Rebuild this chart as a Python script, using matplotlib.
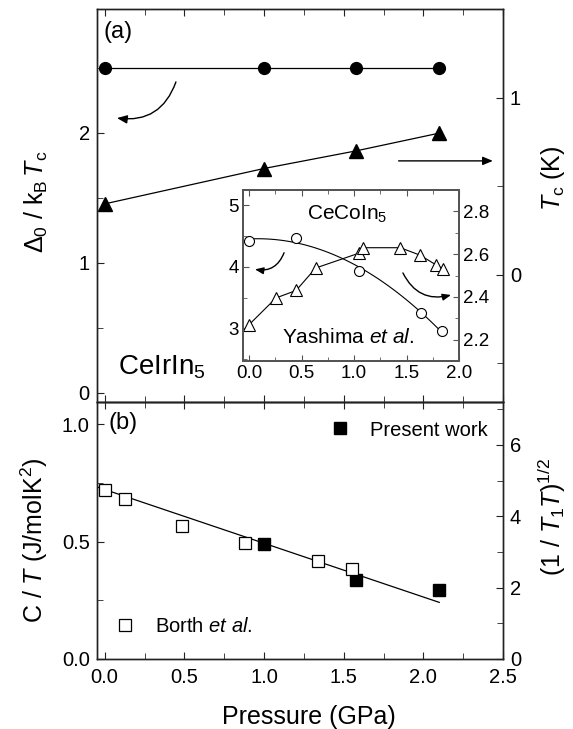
import numpy as np
import matplotlib
matplotlib.use('Agg')
import matplotlib.pyplot as plt
from matplotlib.ticker import MultipleLocator

plt.rcParams['font.family'] = ['Liberation Sans', 'DejaVu Sans']
plt.rcParams['mathtext.fontset'] = 'custom'
plt.rcParams['mathtext.rm'] = 'Liberation Sans'
plt.rcParams['mathtext.it'] = 'Liberation Sans:italic'
plt.rcParams['mathtext.bf'] = 'Liberation Sans:bold'
plt.rcParams['mathtext.sf'] = 'Liberation Sans'

# (a) CeIrIn5
p_a = [0.0, 1.0, 1.58, 2.10]
gap_a = [2.5, 2.5, 2.5, 2.5]
tc_a = [0.40, 0.60, 0.70, 0.80]

# inset CeCoIn5 (Yashima et al.)
p_gap_in = [0.0, 0.445, 1.05, 1.64, 1.84]
gap_in = [4.42, 4.47, 3.94, 3.25, 2.95]
p_tc_in = [0.0, 0.257, 0.448, 0.635, 1.05, 1.09, 1.44, 1.63, 1.78, 1.85]
tc_in = [2.27, 2.395, 2.43, 2.535, 2.605, 2.63, 2.63, 2.595, 2.55, 2.53]

# (b)
p_borth = [0.0, 0.13, 0.486, 0.88, 1.34, 1.555]
ct_borth = [0.719, 0.68, 0.566, 0.495, 0.417, 0.383]
p_present = [1.0, 1.58, 2.10]
t1_present = [3.22, 2.21, 1.92]
p_fit = [-0.05, 2.10]
ct_fit = [0.733, 0.241]

W, H = 573, 729
fig = plt.figure(figsize=(W / 100, H / 100), dpi=100)

L, R = 96.7, 503
ax1 = fig.add_axes([L / W, 1 - 402 / H, (R - L) / W, (402 - 9.3) / H])
ax2 = fig.add_axes([L / W, 1 - 659 / H, (R - L) / W, (659 - 402) / H])
ax1r = ax1.twinx()
ax2r = ax2.twinx()

lw = 0.9
for a in (ax1, ax2, ax1r, ax2r):
    for s in a.spines.values():
        s.set_linewidth(1.0)
        s.set_color('#222222')
    a.tick_params(direction='in', which='both', labelsize=14.5, pad=5,
                  color='#222222')
    a.tick_params(which='major', length=5)
    a.tick_params(which='minor', length=4)
for a in (ax1, ax2):
    a.set_xlim(-0.05, 2.5)
    a.xaxis.set_major_locator(MultipleLocator(0.5))
    a.xaxis.set_minor_locator(MultipleLocator(0.25))
    a.tick_params(top=True, which='both')
ax1.tick_params(labelbottom=False)
ax2.tick_params(axis='x', pad=6.5)

# panel (a)
ax1.set_ylim(-0.07, 2.95)
ax1.yaxis.set_major_locator(MultipleLocator(1))
ax1.yaxis.set_minor_locator(MultipleLocator(0.5))
ax1r.set_ylim(-0.72, 1.50)
ax1r.yaxis.set_major_locator(MultipleLocator(1))
ax1r.yaxis.set_minor_locator(MultipleLocator(0.5))
ax1.plot(p_a, gap_a, '-', color='black', lw=lw, marker='o', ms=8.5)
ax1r.plot(p_a, tc_a, '-', color='black', lw=lw, marker='^', ms=9.5)

ax1.annotate('', xy=(0.050, 0.723), xytext=(0.195, 0.815),
             xycoords='axes fraction', textcoords='axes fraction',
             arrowprops=dict(arrowstyle='-|>,head_length=0.6,head_width=0.25',
                             connectionstyle='arc3,rad=-0.4', color='black',
                             lw=1.0, shrinkA=0, shrinkB=0))
ax1.annotate('', xy=(0.975, 0.614), xytext=(0.743, 0.614),
             xycoords='axes fraction', textcoords='axes fraction',
             arrowprops=dict(arrowstyle='-|>,head_length=0.6,head_width=0.25',
                             color='black', lw=1.0, shrinkA=0, shrinkB=0))
ax1.text(0.016, 0.941, '(a)', transform=ax1.transAxes, fontsize=17,
         ha='left', va='center')
ax1.text(0.052, 0.071, 'CeIrIn$_5$', transform=ax1.transAxes, fontsize=20,
         ha='left', va='baseline')

# inset
axi = fig.add_axes([243.3 / W, 1 - 361 / H, (459 - 243.3) / W, (361 - 190) / H])
axir = axi.twinx()
for a in (axi, axir):
    for s in a.spines.values():
        s.set_linewidth(1.4)
        s.set_color('#555555')
    a.tick_params(direction='in', which='both', labelsize=13.5, pad=3,
                  color='#555555')
    a.tick_params(which='major', length=4)
    a.tick_params(which='minor', length=3)
axi.set_xlim(-0.055, 2.0)
axi.xaxis.set_major_locator(MultipleLocator(0.5))
axi.xaxis.set_minor_locator(MultipleLocator(0.25))
axi.tick_params(top=True, which='both')
axi.set_ylim(2.47, 5.25)
axi.yaxis.set_major_locator(MultipleLocator(1))
axi.yaxis.set_minor_locator(MultipleLocator(0.5))
axir.set_ylim(2.10, 2.90)
axir.yaxis.set_minor_locator(MultipleLocator(0.1))
axir.set_yticks([2.2, 2.4, 2.6, 2.8])
axir.set_yticklabels(['2.2', '2.4', '2.6', '2.8'])

# guide curve through the gap data
coef = np.polyfit(p_gap_in, gap_in, 2)
pp = np.linspace(p_gap_in[0], p_gap_in[-1], 100)
axi.plot(pp, np.polyval(coef, pp), '-', color='black', lw=0.8)
axi.plot(p_gap_in, gap_in, 'o', mfc='white', mec='black', ms=7.2, mew=0.8)
axir.plot(p_tc_in, tc_in, '-', color='black', lw=0.8, marker='^',
          mfc='white', mec='black', ms=8.5, mew=0.8)

axi.annotate('', xy=(0.054, 0.536), xytext=(0.189, 0.633),
             xycoords='axes fraction', textcoords='axes fraction',
             arrowprops=dict(arrowstyle='-|>,head_length=0.5,head_width=0.2',
                             connectionstyle='arc3,rad=-0.4', color='black',
                             lw=1.0, shrinkA=0, shrinkB=0))
axi.annotate('', xy=(0.963, 0.386), xytext=(0.740, 0.515),
             xycoords='axes fraction', textcoords='axes fraction',
             arrowprops=dict(arrowstyle='-|>,head_length=0.5,head_width=0.2',
                             connectionstyle='arc3,rad=0.4', color='black',
                             lw=1.0, shrinkA=0, shrinkB=0))
axi.text(0.295, 0.825, 'CeCoIn$_5$', transform=axi.transAxes, fontsize=15,
         ha='left', va='baseline')
axi.text(0.179, 0.105, r'Yashima $\it{et\ al.}$', transform=axi.transAxes,
         fontsize=15, ha='left', va='baseline')

# panel (b)
ax2.set_ylim(0, 1.094)
ax2.yaxis.set_major_locator(MultipleLocator(0.5))
ax2.yaxis.set_minor_locator(MultipleLocator(0.25))
ax2r.set_ylim(0, 7.2)
ax2r.yaxis.set_major_locator(MultipleLocator(2))
ax2r.yaxis.set_minor_locator(MultipleLocator(1))

ax2.plot(p_fit, ct_fit, '-', color='black', lw=lw)
h1, = ax2.plot(p_borth, ct_borth, 's', mfc='white', mec='black', ms=8,
               mew=0.9, label=r'Borth $\it{et\ al}$.')
h2, = ax2r.plot(p_present, t1_present, 's', color='black', ms=8.5,
                label='Present work')
ax2.set_zorder(ax2r.get_zorder() + 1)
ax2.patch.set_visible(False)

leg1 = ax2.legend(handles=[h2], loc='center left',
                  bbox_to_anchor=(0.574, 0.891), frameon=False, fontsize=14.5,
                  handlelength=1, handletextpad=1.0, borderpad=0,
                  borderaxespad=0)
ax2.add_artist(leg1)
ax2.legend(handles=[h1], loc='center left', bbox_to_anchor=(0.045, 0.126),
           frameon=False, fontsize=14.5, handlelength=1, handletextpad=1.0,
           borderpad=0, borderaxespad=0)
ax2.text(0.029, 0.918, '(b)', transform=ax2.transAxes, fontsize=17,
         ha='left', va='center')

# axis labels
fig.text(36 / W, 1 - 202 / H, r'$\Delta_0$ / k$_\mathrm{B}$$\,T_\mathrm{c}$',
         rotation=90, ha='center', va='center', fontsize=18)
fig.text(553 / W, 1 - 178 / H, r'$T_\mathrm{c}$ (K)', rotation=90,
         ha='center', va='center', fontsize=18)
fig.text(34 / W, 1 - 540 / H, r'C / $T$ (J/molK$^2$)', rotation=90,
         ha='center', va='center', fontsize=18)
fig.text(552 / W, 1 - 517 / H, r'(1 / $T_1T$)$^{1/2}$', rotation=90,
         ha='center', va='center', fontsize=18)
fig.text(309 / W, 1 - 717 / H, 'Pressure (GPa)', ha='center', va='center',
         fontsize=18)

fig.savefig('out.png', dpi=100)
